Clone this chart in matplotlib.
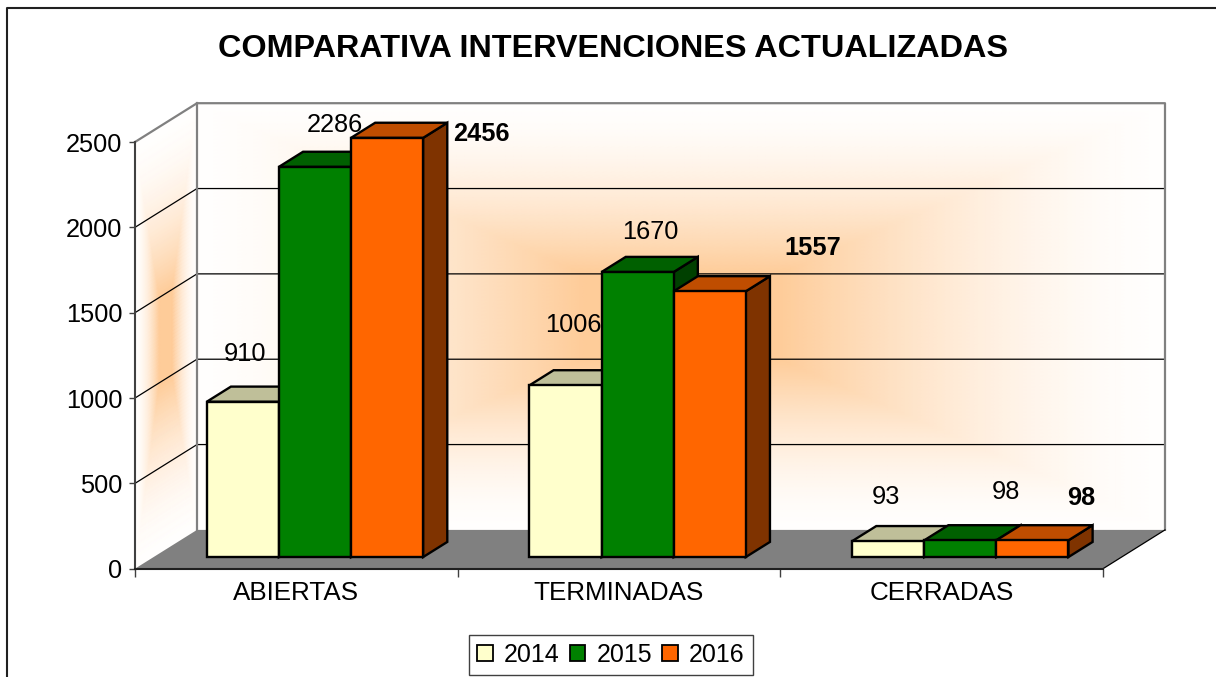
# -*- coding: utf8 -*-
import numpy as np
import matplotlib
matplotlib.use('Agg')
import matplotlib.pyplot as plt
from matplotlib.colors import LinearSegmentedColormap
from matplotlib.lines import Line2D
from matplotlib.patches import Polygon, Patch

plt.rcParams['font.family'] = ['Liberation Sans', 'DejaVu Sans']

categories = ['ABIERTAS', 'TERMINADAS', 'CERRADAS']
years = ['2014', '2015', '2016']
v2014 = [910, 1006, 93]
v2015 = [2286, 1670, 98]
v2016 = [2456, 1557, 98]
yticks = [0, 500, 1000, 1500, 2000, 2500]

series = [v2014, v2015, v2016]
front = ['#FFFFCC', '#008000', '#FF6600']
top = ['#BFBF99', '#006000', '#BF4D00']
side = ['#7F7F66', '#004000', '#7F3300']
bold = [False, False, True]
# label offset from the front-top centre of each bar, pixels
label_off = [[(2, 48), (8, 60), (-2, 44)],
             [(20, 42), (13, 40), (46, 48)],
             [(94, 4), (103, 43), (49, 42)]]

W, H = 1216, 677
fig = plt.figure(figsize=(W / 100, H / 100), dpi=100)
ax = fig.add_axes([135 / W, (H - 568.7) / H, 968 / W, 426.7 / H])
ax.set_xlim(0, 3)
ax.set_ylim(0, 2500)
ax.patch.set_visible(False)

# depth of the box in data units
DX = 62 / (968 / 3)
DY = 38.8 / (426.7 / 2500)

cm = LinearSegmentedColormap.from_list('wall', ['#FFFEFD', '#FECC99'])


def glow(a, b, power=1.6):
    t = np.minimum(1 - np.abs(a - 0.5) * 2, 1 - np.abs(b - 0.5) * 2)
    return np.clip(t * 1.25, 0, 1) ** power


# back wall and side wall
a, b = np.meshgrid(np.linspace(0, 1, 120), np.linspace(0, 1, 120))
ax.pcolormesh(3 * a + DX, 2500 * b + DY, glow(a, b), cmap=cm, vmin=0, vmax=1,
              shading='gouraud', clip_on=False, zorder=1)
ax.pcolormesh(a * DX, 2500 * b + a * DY, glow(a, b, 1.8), cmap=cm, vmin=0, vmax=1,
              shading='gouraud', clip_on=False, zorder=1)

# grid on the walls
for v in yticks[1:-1]:
    ax.plot([0, DX, 3 + DX], [v, v + DY, v + DY], color='k', lw=0.9,
            clip_on=False, zorder=2)
ax.plot([0, DX, 3 + DX, 3 + DX], [2500, 2500 + DY, 2500 + DY, DY], color='#808080',
        lw=1.6, clip_on=False, zorder=2)
ax.plot([DX, DX], [DY, 2500 + DY], color='#808080', lw=1.6, clip_on=False, zorder=2)

# floor
ax.add_patch(Polygon([(0, 0), (3, 0), (3 + DX, DY), (DX, DY)], facecolor='#808080',
                     edgecolor='none', clip_on=False, zorder=3))
ax.plot([3, 3 + DX], [0, DY], color='k', lw=0.9, clip_on=False, zorder=3)

# bars
w = 0.2235
d0, d1 = 0.3, 0.69
z = 4
for j, vals in enumerate(series):
    for i, v in enumerate(vals):
        x0 = i + 0.5 + (j - 1.5) * w
        x1 = x0 + w
        ox0, oy0 = d0 * DX, d0 * DY
        ox1, oy1 = d1 * DX, d1 * DY
        ax.add_patch(Polygon([(x1 + ox0, oy0), (x1 + ox1, oy1), (x1 + ox1, v + oy1), (x1 + ox0, v + oy0)],
                             facecolor=side[j], edgecolor='k', lw=1.7, clip_on=False, zorder=z))
        ax.add_patch(Polygon([(x0 + ox0, v + oy0), (x1 + ox0, v + oy0), (x1 + ox1, v + oy1), (x0 + ox1, v + oy1)],
                             facecolor=top[j], edgecolor='k', lw=1.7, clip_on=False, zorder=z))
        ax.bar(x0 + ox0, v, w, bottom=oy0, align='edge', color=front[j], edgecolor='k', lw=1.7,
               clip_on=False, zorder=z + 0.5)
        z += 1

# value labels
for j, vals in enumerate(series):
    for i, v in enumerate(vals):
        xc = i + 0.5 + (j - 1) * w + d0 * DX
        ax.annotate(str(v), (xc, v + d0 * DY), xytext=label_off[j][i], textcoords='offset pixels',
                    ha='center', va='center', fontsize=18.3, annotation_clip=False, zorder=30,
                    fontweight='bold' if bold[j] else 'normal', color='k')

# axes
for s in ['top', 'right']:
    ax.spines[s].set_visible(False)
ax.spines['left'].set_color('#404040')
ax.spines['left'].set_linewidth(1.5)
ax.spines['bottom'].set_color('#202020')
ax.spines['bottom'].set_linewidth(1.5)
ax.spines['left'].set_zorder(5)
ax.spines['bottom'].set_zorder(5)
ax.set_yticks(yticks)
ax.set_yticklabels([str(t) for t in yticks])
ax.tick_params(axis='y', length=4.5, width=1, color='#404040', labelsize=18.3, pad=4.5)
ax.set_xticks([0, 1, 2, 3])
ax.set_xticklabels([])
ax.set_xticks([0.5, 1.5, 2.5], minor=True)
ax.set_xticklabels(categories, minor=True)
ax.tick_params(axis='x', which='major', length=6, width=1, color='#404040')
ax.tick_params(axis='x', which='minor', length=0, labelsize=18.7, pad=9)

fig.text(613 / W, (H - 49) / H, 'COMPARATIVA INTERVENCIONES ACTUALIZADAS', ha='center', va='center',
         fontsize=23.3, fontweight='bold')

handles = [Patch(facecolor=front[k], edgecolor='k', lw=1.3) for k in range(3)]
fig.legend(handles, years, ncol=3, loc='center', bbox_to_anchor=(611 / W, (H - 654.5) / H), fontsize=18,
           frameon=True, fancybox=False, edgecolor='#404040', framealpha=1, handlelength=0.62, handleheight=0.62,
           handletextpad=0.45, columnspacing=0.4, borderpad=0.32, borderaxespad=0)

# chart frame, cut by the screenshot on the right and at the bottom
fig.add_artist(Line2D([6.5 / W, 6.5 / W, 1], [0, (H - 8) / H, (H - 8) / H], color='#202020', lw=1.5))

fig.savefig('out.png', dpi=100)
